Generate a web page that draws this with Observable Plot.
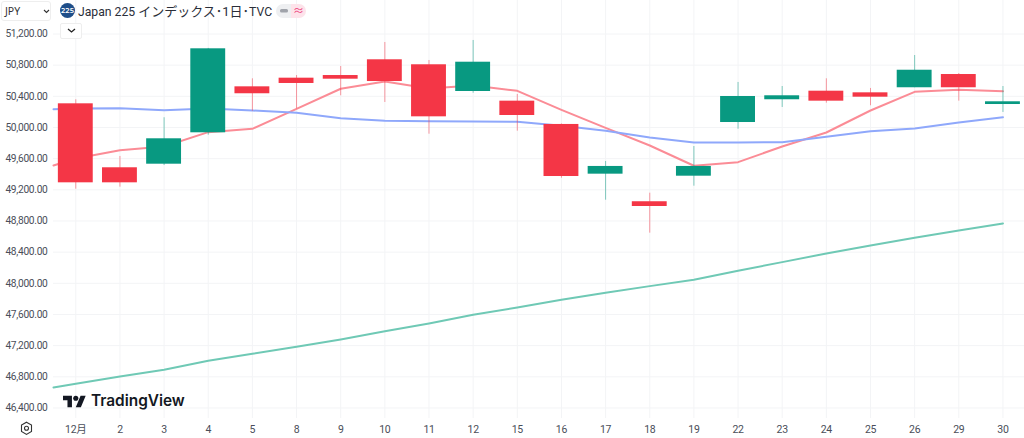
<!DOCTYPE html>
<html lang="ja">
<head>
<meta charset="utf-8">
<script src="https://cdn.jsdelivr.net/npm/d3@7"></script>
<script src="https://cdn.jsdelivr.net/npm/@observablehq/plot@0.6"></script>
<style>
  html, body { margin: 0; padding: 0; background: #fff; }
  #wrap { position: relative; width: 1024px; height: 438px; overflow: hidden; font-family: "Noto Sans", "Noto Sans CJK JP", sans-serif; }
  #chart svg { display: block; }
  .ov { position: absolute; box-sizing: border-box; }
  .lat { font-size: 12.2px; }
</style>
</head>
<body>
<div id="wrap">
  <div id="chart"></div>
  <div class="ov" style="left:1px;top:1px;width:50px;height:20px;border:1px solid #eeeeee;border-radius:3px;background:#fff;font-size:10.5px;line-height:19px;padding-left:3px;color:#333;">JPY<svg style="position:absolute;left:41px;top:7px" width="7" height="5"><path d="M1 1l2.5 2.5L6 1" fill="none" stroke="#333" stroke-width="1.1"/></svg></div>
  <div class="ov" style="left:60px;top:3px;width:15px;height:15px;border-radius:50%;background:#1f4e89;color:#fff;font-size:7.5px;line-height:15px;text-align:center;font-weight:600;">225</div>
  <div class="ov" id="title" style="left:78px;top:1px;font-family:Roboto,'Noto Sans CJK JP',sans-serif;font-size:13px;line-height:21px;color:#2a2e39;white-space:nowrap;"><span class="lat">Japan 225 </span>インデックス･1日･<span class="lat">TVC</span></div>
  <div class="ov" style="left:276px;top:4px;width:15px;height:14px;border-radius:7px 0 0 7px;background:#eeeff1;"><svg style="position:absolute;left:4px;top:5px" width="8" height="4"><rect width="8" height="3.4" rx="1.5" fill="#a0a3aa"/></svg></div>
  <div class="ov" style="left:291px;top:4px;width:15px;height:14px;border-radius:0 7px 7px 0;background:#fde3ea;color:#ec407a;font-size:11px;line-height:13px;text-align:center;">≈</div>
  <div class="ov" style="left:60px;top:23px;width:22px;height:16px;border:1px solid #eeeeee;border-radius:2px;background:#fff;"><svg style="position:absolute;left:6px;top:4px" width="9" height="6"><path d="M1 1l3.5 3L8 1" fill="none" stroke="#222" stroke-width="1.3"/></svg></div>
  <svg class="ov" style="left:63px;top:394px" width="23" height="15" viewBox="0 0 36 22"><path d="M14 20H7V9H0V2h14v18zM28 20h-8l7.5-18h8L28 20z" fill="#131722"/><circle cx="20" cy="6" r="4" fill="#131722"/></svg>
  <div class="ov" style="left:91px;top:389px;font-family:Inter,'Noto Sans',sans-serif;font-weight:600;font-size:15.4px;line-height:24px;color:#131722;white-space:nowrap;">TradingView</div>
  <svg class="ov" style="left:20px;top:421px" width="13" height="15" viewBox="0 0 13 15"><path d="M6.5 1.2l5 2.9v6.3l-5 3-5-3V4.100z" fill="none" stroke="#333" stroke-width="1.1"/><circle cx="6.5" cy="7.3" r="2" fill="none" stroke="#333" stroke-width="1.1"/></svg>
</div>
<script>
const dayLabels = ["12月","2","3","4","5","8","9","10","11","12","15","16","17","18","19","22","23","24","25","26","29","30"];
const opens  = [49290,49290,49855,51010,50433,50565,50620,50590,50137,50838,50154,49371,49500,48986,49500,50398,50407,50338,50389,50735,50510,50330];
const highs  = [50356,49628,50125,51015,50625,50667,50783,51091,50860,51117,50424,50045,49564,49157,49756,50578,50526,50625,50501,50924,50693,50526];
const lows   = [49208,49234,49512,49901,50209,50240,50407,50321,49914,50440,49953,49349,49067,48644,49247,49978,50257,50312,50279,50510,50338,50193];
const closes = [50304,49483,49529,49932,50522,50633,50667,50869,50805,50462,50338,50039,49401,49047,49375,50064,50356,50466,50445,50510,50680,50295];
const maRed   = [49512,49602,49709,49756,49940,49983,50240,50497,50590,50501,50539,50471,50227,49996,49769,49509,49555,49756,49936,50218,50458,50484,50466];
const maBlue  = [50235,50244,50248,50222,50244,50218,50189,50119,50086,50081,50077,50073,50022,49958,49872,49808,49808,49811,49881,49953,49987,50064,50132];
const maGreen = [46664,46711,46805,46891,47006,47096,47186,47280,47386,47485,47596,47690,47789,47879,47964,48046,48161,48272,48383,48486,48585,48678,48768];
const priceTicks = [46400,46800,47200,47600,48000,48400,48800,49200,49600,50000,50400,50800,51200];

const RED = "#f43646", GREEN = "#089981";
const index = dayLabels.map((_, i) => i);
const candles = index.map(i => ({i, open: opens[i], high: highs[i], low: lows[i], close: closes[i], up: closes[i] >= opens[i]}));
// moving-average lists start at the left edge of the plot, half a bar before the first candle
const maX = [-0.505, ...index];
const halfBody = 0.395;
const grid = "#f3f4f6";

const chart = Plot.plot({
  width: 1024, height: 438,
  marginLeft: 53, marginRight: 0, marginTop: 0, marginBottom: 20,
  style: {background: "#fff", fontFamily: 'Roboto,"Noto Sans CJK JP",sans-serif', letterSpacing: "-0.3px"},
  x: {type: "linear", domain: [-0.505, 21.488]},
  y: {type: "linear", domain: [46265, 51630]},
  marks: [
    Plot.ruleY(priceTicks, {stroke: grid, strokeWidth: 1}),
    Plot.ruleX(index, {stroke: grid, strokeWidth: 1}),
    Plot.line(maRed,   {x: (_, k) => maX[k], y: d => d, stroke: "#fb8c96", strokeWidth: 2, curve: "linear"}),
    Plot.line(maBlue,  {x: (_, k) => maX[k], y: d => d, stroke: "#8fa8fb", strokeWidth: 2, curve: "linear"}),
    Plot.line(maGreen, {x: (_, k) => maX[k], y: d => d, stroke: "#6fc9b5", strokeWidth: 2, curve: "linear"}),
    Plot.ruleX(candles, {x: "i", y1: "low", y2: "high", stroke: d => d.up ? RED : GREEN, strokeOpacity: 0.5, strokeWidth: 1}),
    Plot.rect(candles, {x1: d => d.i - halfBody, x2: d => d.i + halfBody, y1: "open", y2: "close", fill: d => d.up ? RED : GREEN}),
    Plot.axisY(priceTicks, {anchor: "left", tickSize: 0, tickPadding: 6, label: null, tickFormat: d => d3.format(",.2f")(d), fill: "#4a4e59", fontSize: 10.2}),
    Plot.axisX(index, {anchor: "bottom", tickSize: 0, tickPadding: 7, label: null, tickFormat: i => dayLabels[i], fill: "#4a4e59", fontSize: 10.5})
  ]
});
document.getElementById("chart").appendChild(chart);
</script>
</body>
</html>
